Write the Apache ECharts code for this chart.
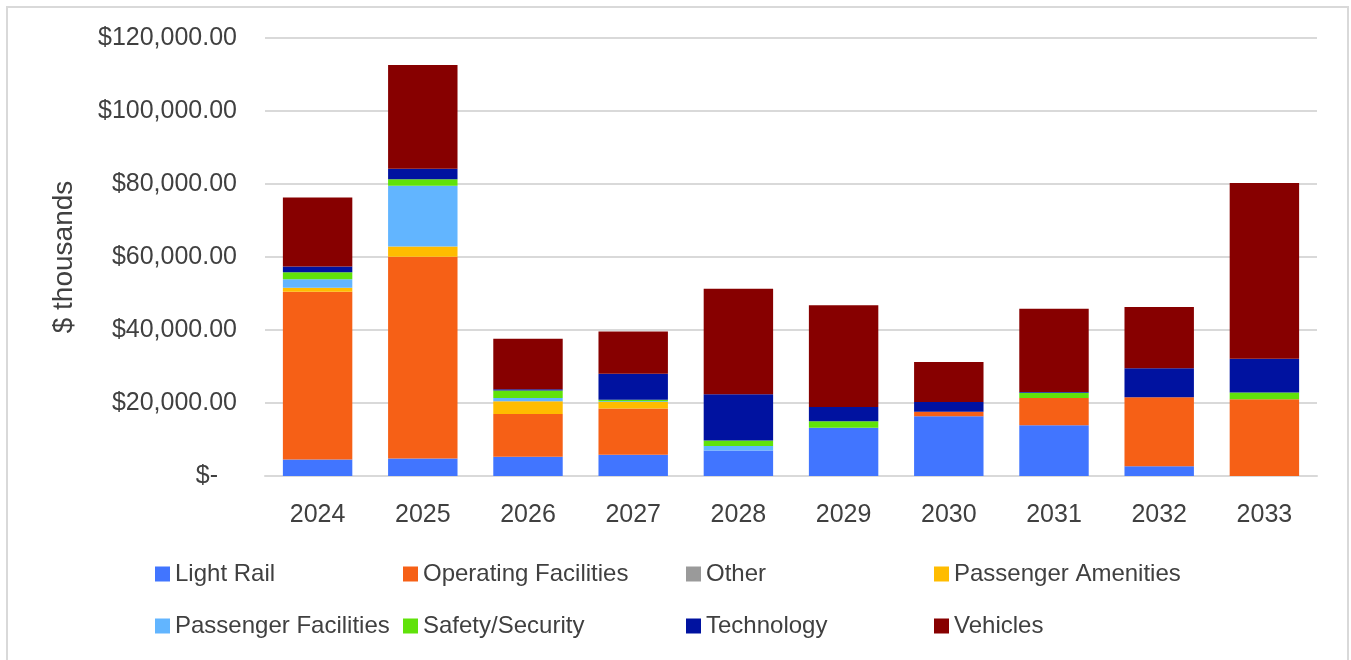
<!DOCTYPE html>
<html>
<head>
<meta charset="utf-8">
<script src="https://cdn.jsdelivr.net/npm/echarts@6/dist/echarts.min.js"></script>
<style>
html,body{margin:0;padding:0;background:#fff;}
#chart{width:1351px;height:660px;}
</style>
</head>
<body>
<div id="chart"></div>
<script>
var categories = ['2024','2025','2026','2027','2028','2029','2030','2031','2032','2033'];
var lightRail = [4500, 4800, 5300, 5800, 7000, 13200, 16400, 13900, 2700, 0];
var operatingFacilities = [46000, 55300, 11700, 12700, 0, 0, 1200, 7500, 18900, 21000];
var other = [0, 0, 0, 0, 0, 0, 0, 0, 0, 0];
var passengerAmenities = [1100, 2800, 3500, 1800, 0, 0, 0, 0, 0, 0];
var passengerFacilities = [2300, 16600, 900, 200, 1200, 0, 0, 0, 0, 0];
var safetySecurity = [1900, 1800, 2000, 400, 1500, 1800, 0, 1400, 0, 1900];
var technology = [1600, 2900, 400, 7100, 12700, 3900, 2700, 200, 7900, 9200];
var vehicles = [18900, 28400, 13800, 11600, 28900, 27900, 10900, 22800, 16800, 48200];
var yTicks = [0, 20000, 40000, 60000, 80000, 100000, 120000];

var seriesDefs = [
  {name:'Light Rail', data:lightRail, color:'#4175FF'},
  {name:'Operating Facilities', data:operatingFacilities, color:'#F66016'},
  {name:'Other', data:other, color:'#9A9A9A'},
  {name:'Passenger Amenities', data:passengerAmenities, color:'#FFBC00'},
  {name:'Passenger Facilities', data:passengerFacilities, color:'#62B5FF'},
  {name:'Safety/Security', data:safetySecurity, color:'#60E20A'},
  {name:'Technology', data:technology, color:'#0012A0'},
  {name:'Vehicles', data:vehicles, color:'#870000'}
];
var legendPos = [
  [155,562],[403,562],[686,562],[934,562],
  [155,614],[403,614],[686,614],[934,614]
];
var font = '"Liberation Sans", Arial, sans-serif';
var textColor = '#404040';

var chart = echarts.init(document.getElementById('chart'));
var option = {
  animation:false,
  textStyle:{fontFamily:font},
  graphic:[{type:'rect', shape:{x:7,y:7,width:1341,height:670}, style:{fill:'none', stroke:'#d9d9d9', lineWidth:2}, silent:true}],
  grid:{left:265, right:34, top:38, bottom:184},
  legend: seriesDefs.map(function(s,i){
    return {data:[s.name], left:legendPos[i][0], top:legendPos[i][1], padding:0,
      icon:'rect', itemWidth:15, itemHeight:15,
      textStyle:{fontSize:24, color:textColor, fontFamily:font}};
  }),
  xAxis:{type:'category', data:categories,
    axisLine:{lineStyle:{color:'#d9d9d9', width:2}},
    axisTick:{show:false},
    axisLabel:{fontSize:25, color:textColor, margin:27, fontFamily:font}},
  yAxis:{type:'value', min:0, max:120000, interval:20000,
    name:'$ thousands', nameLocation:'middle', nameGap:187, nameRotate:90,
    nameTextStyle:{fontSize:28, color:textColor, fontFamily:font},
    axisLine:{show:false}, axisTick:{show:false},
    splitLine:{lineStyle:{color:'#d9d9d9', width:2}},
    axisLabel:{fontSize:25, color:textColor, margin:28, fontFamily:font,
      formatter:function(v){
        if(v===0) return '{z|$-}';
        return '$' + v.toLocaleString('en-US',{minimumFractionDigits:2, maximumFractionDigits:2});
      },
      rich:{z:{fontSize:25, color:textColor, fontFamily:font, padding:[0,19,0,0]}}}},
  series: seriesDefs.map(function(s){
    return {name:s.name, type:'bar', stack:'total', data:s.data, barCategoryGap:'34%',
      itemStyle:{color:s.color}};
  })
};
chart.setOption(option);
</script>
</body>
</html>
